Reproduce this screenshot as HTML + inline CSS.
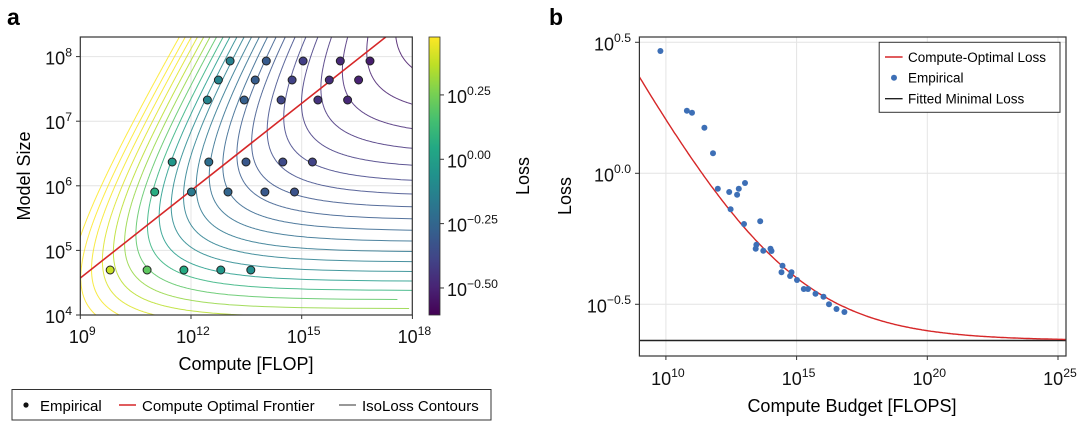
<!DOCTYPE html>
<html><head><meta charset="utf-8"><style>
html,body{margin:0;padding:0;background:#fff;}
svg{display:block;font-family:"Liberation Sans",Arial,sans-serif;}
</style></head><body>
<svg id="s" width="1080" height="426" viewBox="0 0 1080 426" xmlns="http://www.w3.org/2000/svg">
<defs>
<clipPath id="ca"><rect x="80.3" y="37" width="332" height="278"/></clipPath>
<clipPath id="cb"><rect x="639.4" y="37" width="426.6" height="319"/></clipPath>
<linearGradient id="vg" x1="0" y1="1" x2="0" y2="0">
<stop offset="0" stop-color="#440154"/><stop offset="0.1" stop-color="#482475"/><stop offset="0.2" stop-color="#414487"/><stop offset="0.3" stop-color="#355f8d"/><stop offset="0.4" stop-color="#2a788e"/><stop offset="0.5" stop-color="#21918c"/><stop offset="0.6" stop-color="#22a884"/><stop offset="0.7" stop-color="#44bf70"/><stop offset="0.8" stop-color="#7ad151"/><stop offset="0.9" stop-color="#bddf26"/><stop offset="1" stop-color="#fde725"/>
</linearGradient>
</defs>
<text x="7" y="25" font-size="23" font-weight="bold">a</text>
<text x="549" y="25" font-size="23" font-weight="bold">b</text>
<g id="ga"></g>
<g id="gb"></g>
</svg>
<script>
var NS="http://www.w3.org/2000/svg";
function el(p,t,a,txt){var e=document.createElementNS(NS,t);for(var k in a)e.setAttribute(k,a[k]);if(txt!=null)e.textContent=txt;p.appendChild(e);return e;}
var V=[[68,1,84],[72,36,117],[65,68,135],[53,95,141],[42,120,142],[33,145,140],[34,168,132],[68,191,112],[122,209,81],[189,223,38],[253,231,37]];
function vir(t){t=Math.max(0,Math.min(1,t));var f=t*10,i=Math.min(9,Math.floor(f)),r=f-i;var c=V[i].map(function(v,j){return Math.round(v+(V[i+1][j]-v)*r);});return "rgb("+c.join(",")+")";}
function sup(g,x,y,base,exp,anchor,fs){var t=el(g,"text",{x:x,y:y,"font-size":fs,"text-anchor":anchor,fill:"#111"});el(t,"tspan",{},base);el(t,"tspan",{"font-size":fs*0.68,dy:-fs*0.45},exp);return t;}
var NODES=[[-0.75,-0.65],[-0.445,-0.52],[-0.164,-0.3],[0.05,-0.1],[0.2,0.3],[0.3,0.45],[0.45,0.55]];
function pw(x,ia,ib){for(var i=0;i<NODES.length-1;i++){var a=NODES[i],b=NODES[i+1];if(x<=b[ia]||i==NODES.length-2){return a[ib]+(x-a[ia])*(b[ib]-a[ib])/(b[ia]-a[ia]);}}}
function toDisp(m){return pw(m,0,1);}
// ---------- Panel a
var ga=document.getElementById("ga");
function xa(l){return 80.3+(l-9)*36.9;} function ya(l){return 315-(l-4)*64.6;}
var E=0.23,A=33.5,B=11.95,al=0.34,be=0.28;
function loss(lC,lN){var D=lC-Math.log10(6)-lN;return E+A*Math.pow(10,-al*lN)+B*Math.pow(10,-be*D);}
var lo=-0.605,hi=0.475;
function colD(d){return vir((d-lo)/(hi-lo));}
[12,15].forEach(function(d){el(ga,"line",{x1:xa(d),x2:xa(d),y1:37,y2:315,stroke:"#e4e4e4","stroke-width":1});});
[5,6,7,8].forEach(function(d){el(ga,"line",{x1:80.3,x2:412.3,y1:ya(d),y2:ya(d),stroke:"#e4e4e4","stroke-width":1});});
var cg=el(ga,"g",{"clip-path":"url(#ca)"});
for(var lv=-0.6;lv<=0.42;lv+=0.04){
 var L=Math.pow(10,lv),d="",pen=false;
 for(var lN=3.5;lN<=9;lN+=0.005){
  var rem=L-E-A*Math.pow(10,-al*lN);
  if(rem<=0){pen=false;continue;}
  var lC=Math.log10(6)+lN+(1/be)*Math.log10(B/rem);
  var X=xa(lC),Y=ya(lN);
  if(X>2000){pen=false;continue;}
  d+=(pen?"L":"M")+X.toFixed(1)+","+Y.toFixed(1);pen=true;
 }
 if(d)el(cg,"path",{d:d,fill:"none",stroke:colD(toDisp(lv)),"stroke-width":1,"stroke-opacity":0.85});
}
el(cg,"line",{x1:80.3,y1:278,x2:385.8,y2:37,stroke:"#d62728","stroke-width":1.6});
var px=[[230.1,266.3,303.1,340.3,370],[218.4,255.2,292.1,329.3,358.6],[207.4,244.2,281.1,317.9,347.6],[172.2,208.8,246,282.8,312.4],[154.7,191.5,228,264.9,294.5],[110.2,147.1,183.9,220.8,250.8]];
var pyv=[61,80,100,162,192,270];
px.forEach(function(r,i){r.forEach(function(x){var lC=9+(x-80.3)/36.9,lN=4+(315-pyv[i])/64.6;el(ga,"circle",{cx:x,cy:pyv[i],r:4,fill:colD(toDisp(Math.log10(loss(lC,lN)))),stroke:"#222","stroke-width":1});});});
el(ga,"rect",{x:80.3,y:37,width:332,height:278,fill:"none",stroke:"#333","stroke-width":1.2});
[9,12,15,18].forEach(function(d){el(ga,"line",{x1:xa(d),x2:xa(d),y1:315,y2:319,stroke:"#333"});sup(ga,xa(d)+2,343,"10",d,"middle",18);});
[4,5,6,7,8].forEach(function(d){el(ga,"line",{x1:76,x2:80.3,y1:ya(d),y2:ya(d),stroke:"#333"});sup(ga,72,ya(d)+8,"10",d,"end",18);});
el(ga,"text",{x:246,y:370,"font-size":18,"text-anchor":"middle"},"Compute [FLOP]");
el(ga,"text",{x:0,y:0,"font-size":18,"text-anchor":"middle",transform:"translate(30,176) rotate(-90)"},"Model Size");
el(ga,"rect",{x:429,y:37,width:11,height:278,fill:"url(#vg)",stroke:"#333","stroke-width":0.8});
[[0.25,"0.25"],[0,"0.00"],[-0.25,"\u22120.25"],[-0.5,"\u22120.50"]].forEach(function(t){var y=315-(t[0]-lo)/(hi-lo)*278;el(ga,"line",{x1:440,x2:444,y1:y,y2:y,stroke:"#333"});sup(ga,447,y+8,"10",t[1],"start",18);});
el(ga,"text",{x:0,y:0,"font-size":18,"text-anchor":"middle",transform:"translate(529,176) rotate(-90)"},"Loss");
el(ga,"rect",{x:12,y:389.5,width:479,height:30.5,fill:"#fff",stroke:"#333","stroke-width":1});
el(ga,"circle",{cx:26,cy:405,r:2.6,fill:"#111"});
el(ga,"text",{x:40,y:411,"font-size":15},"Empirical");
el(ga,"line",{x1:119,x2:136,y1:405,y2:405,stroke:"#d62728","stroke-width":1.6});
el(ga,"text",{x:142,y:411,"font-size":15},"Compute Optimal Frontier");
el(ga,"line",{x1:339,x2:356,y1:405,y2:405,stroke:"#777","stroke-width":1.6});
el(ga,"text",{x:362,y:411,"font-size":15},"IsoLoss Contours");
// ---------- Panel b
var gb=document.getElementById("gb");
function xb(l){return 665.9+(l-10)*26.14;} function yb(l){return 173.3-l*262;}
[10,15,20,25].forEach(function(d){el(gb,"line",{x1:xb(d),x2:xb(d),y1:37,y2:356,stroke:"#e4e4e4"});});
[0.5,0,-0.5].forEach(function(d){el(gb,"line",{x1:639.4,x2:1066,y1:yb(d),y2:yb(d),stroke:"#e4e4e4"});});
var cb=el(gb,"g",{"clip-path":"url(#cb)"});
el(cb,"line",{x1:639.4,x2:1066,y1:340.5,y2:340.5,stroke:"#222","stroke-width":1.6});
var d="";for(var lc=8.9;lc<=25.5;lc+=0.05){var Lv=0.23+90.8*Math.pow(10,-0.182*lc);d+=(d?"L":"M")+xb(lc).toFixed(1)+","+yb(Math.log10(Lv)).toFixed(1);}
el(cb,"path",{d:d,fill:"none",stroke:"#d62728","stroke-width":1.4});
[[660.4,51],[686.9,110.7],[692,112.7],[704.4,127.7],[713,153.3],[717.8,188.7],[729.2,192],[737.1,194.7],[738.8,188.7],[745,183],[730.6,209.3],[744,224],[760.2,221.3],[756.4,244.7],[755.7,248.7],[763.3,250.7],[770.5,248.7],[771.5,251],[782.5,265.7],[781.5,272.3],[791.5,272.3],[790.1,276],[797,280],[803.8,289],[808,289],[815.5,293.7],[823.5,296.7],[829,304.3],[836.5,309],[844.4,312]].forEach(function(p){el(gb,"circle",{cx:p[0],cy:p[1],r:3,fill:"#3d6fb6"});});
el(gb,"rect",{x:639.4,y:37,width:426.6,height:319,fill:"none",stroke:"#333","stroke-width":1.2});
[10,15,20,25].forEach(function(d){el(gb,"line",{x1:xb(d),x2:xb(d),y1:356,y2:360,stroke:"#333"});sup(gb,xb(d)+2,385,"10",d,"middle",18);});
[[0.5,"0.5"],[0,"0.0"],[-0.5,"\u22120.5"]].forEach(function(t){el(gb,"line",{x1:635,x2:639.4,y1:yb(t[0]),y2:yb(t[0]),stroke:"#333"});sup(gb,631,yb(t[0])+8,"10",t[1],"end",18);});
el(gb,"text",{x:852,y:412,"font-size":18,"text-anchor":"middle"},"Compute Budget [FLOPS]");
el(gb,"text",{x:0,y:0,"font-size":18,"text-anchor":"middle",transform:"translate(571,196) rotate(-90)"},"Loss");
el(gb,"rect",{x:879.2,y:42.3,width:180.8,height:70,fill:"#fff",stroke:"#333","stroke-width":1});
el(gb,"line",{x1:885,x2:902.6,y1:57,y2:57,stroke:"#d62728","stroke-width":1.4});
el(gb,"text",{x:908,y:62,"font-size":13.5},"Compute-Optimal Loss");
el(gb,"circle",{cx:894,cy:77.7,r:3,fill:"#3d6fb6"});
el(gb,"text",{x:908,y:82.7,"font-size":13.5},"Empirical");
el(gb,"line",{x1:885,x2:902.6,y1:98.7,y2:98.7,stroke:"#222","stroke-width":1.4});
el(gb,"text",{x:908,y:103.7,"font-size":13.5},"Fitted Minimal Loss");
</script>
</body></html>
